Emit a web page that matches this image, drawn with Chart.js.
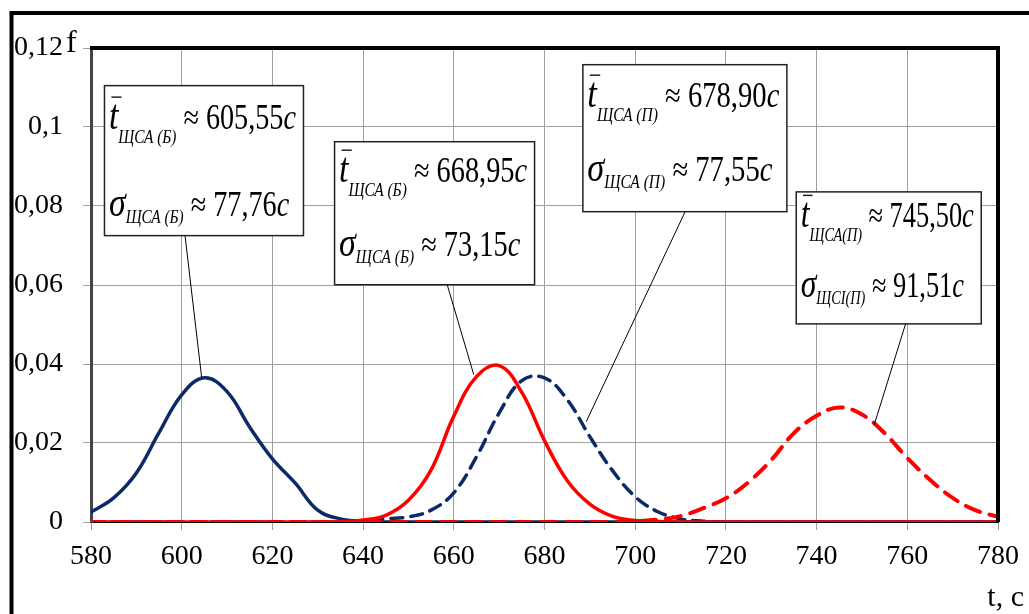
<!DOCTYPE html>
<html>
<head>
<meta charset="utf-8">
<script src="https://cdn.jsdelivr.net/npm/chart.js@4.4.0/dist/chart.umd.min.js"></script>
<style>
  body { margin: 0; background: #fff; }
  #grafik { display: block; }
</style>
</head>
<body>
<canvas id="grafik" width="1029" height="614"></canvas>
<script>
// t, c
const tValues = [580, 585, 590, 595, 600, 605, 610, 615, 620, 625, 630, 635, 640, 645, 650, 655, 660, 665, 670, 675, 680,
                 685, 690, 695, 700, 705, 710, 715, 720, 725, 730, 735, 740, 745, 750, 755, 760, 765, 770, 775, 780];

// f(t) for each curve
const navySolid = [0.0025, 0.0061, 0.0124, 0.0226, 0.0322, 0.0365, 0.0330, 0.0240, 0.0160, 0.0099, 0.0030, 0.0008, 0.0002, 0, 0, 0, 0, 0, 0, 0, 0,
                   0, 0, 0, 0, 0, 0, 0, 0, 0, 0, 0, 0, 0, 0, 0, 0, 0, 0, 0, 0];
const redSolid = [0, 0, 0, 0, 0, 0, 0, 0, 0, 0, 0, 0, 0.0005, 0.0017, 0.0055, 0.0132, 0.0268, 0.0368, 0.0396, 0.0328, 0.0206,
                  0.0105, 0.0045, 0.0014, 0.0004, 0.0001, 0, 0, 0, 0, 0, 0, 0, 0, 0, 0, 0, 0, 0, 0, 0];
const navyDashed = [0, 0, 0, 0, 0, 0, 0, 0, 0, 0, 0, 0, 0.0003, 0.0008, 0.0013, 0.0030, 0.0074, 0.0165, 0.0276, 0.0358, 0.0365,
                    0.0310, 0.0216, 0.0130, 0.0064, 0.0026, 0.0008, 0.0002, 0, 0, 0, 0, 0, 0, 0, 0, 0, 0, 0, 0, 0];
const redDashed = [0, 0, 0, 0, 0, 0, 0, 0, 0, 0, 0, 0, 0, 0, 0, 0, 0, 0, 0, 0, 0,
                   0, 0, 0, 0.0002, 0.0006, 0.0015, 0.0035, 0.0060, 0.0101, 0.0157, 0.0225, 0.0269, 0.0290, 0.0272,
                   0.0225, 0.0162, 0.0107, 0.0061, 0.0030, 0.0013];

const xTicks = [580, 600, 620, 640, 660, 680, 700, 720, 740, 760, 780];
const yTickLabels = ['0', '0,02', '0,04', '0,06', '0,08', '0,1', '0,12'];

// annotation boxes: top-left corner in data units, size in px, leader line target in data units
const notes = [
    { x: 582.86, y: 0.1106, w: 199, h: 150, b1: 44, b2: 131, lx: 81, tx: 604.4, ty: 0.0366,
      sub: 'ЩСА (Б)', sub2: 'ЩСА (Б)', mean: '605,55', sigma: '77,76' },
    { x: 633.6, y: 0.0964, w: 200, h: 143, b1: 41, b2: 115, lx: 113, tx: 664.4, ty: 0.0373,
      sub: 'ЩСА (Б)', sub2: 'ЩСА (Б)', mean: '668,95', sigma: '73,15' },
    { x: 688.35, y: 0.1159, w: 204, h: 147, b1: 43, b2: 117, lx: 103, tx: 689.2, ty: 0.0254,
      sub: 'ЩСА (П)', sub2: 'ЩСА (П)', mean: '678,90', sigma: '77,55' },
    { x: 735.4, y: 0.0837, w: 185, h: 132, b1: 36, b2: 106, lx: 110, tx: 752.7, ty: 0.0246,
      sub: 'ЩСА(П)', sub2: 'ЩСІ(П)', mean: '745,50', sigma: '91,51' }
];

const serif = '"Liberation Serif", "Times New Roman", serif';
const NAVY = '#0b2a66';
const RED = '#ff0000';

function pairs(ys) {
    return tValues.map((t, i) => ({ x: t, y: ys[i] }));
}

function drawNote(ctx, n, xs, ys) {
    const left = xs.getPixelForValue(n.x);
    const top = ys.getPixelForValue(n.y);

    ctx.save();
    ctx.strokeStyle = '#000';
    ctx.lineWidth = 1;
    ctx.beginPath();
    ctx.moveTo(left + n.lx, top + n.h);
    ctx.lineTo(xs.getPixelForValue(n.tx), ys.getPixelForValue(n.ty));
    ctx.stroke();

    ctx.fillStyle = '#fff';
    ctx.fillRect(left, top, n.w, n.h);
    ctx.lineWidth = 1.5;
    ctx.strokeStyle = '#222';
    ctx.strokeRect(left + 0.5, top + 0.5, n.w, n.h);

    const big = '35px ' + serif;
    const bigI = 'italic 35px ' + serif;
    const sym = 'italic 42px ' + serif;
    const small = 'italic 19px ' + serif;
    const lines = [
        [{ t: 't', f: sym, bar: true }, { t: n.sub, f: small, dy: 14 }, { t: ' ≈ ', f: big }, { t: n.mean, f: big }, { t: 'c', f: bigI }],
        [{ t: 'σ', f: sym }, { t: n.sub2, f: small, dy: 7 }, { t: ' ≈ ', f: big }, { t: n.sigma, f: big }, { t: 'c', f: bigI }]
    ];
    const widths = lines.map(parts => parts.reduce((s, p) => { ctx.font = p.f; return s + ctx.measureText(p.t).width; }, 0));
    const sx = (n.w - 12) / Math.max(...widths);

    ctx.fillStyle = '#000';
    ctx.textBaseline = 'alphabetic';
    ctx.textAlign = 'left';
    [n.b1, n.b2].forEach((base, li) => {
        ctx.save();
        ctx.translate(left + 5, top + base);
        ctx.scale(sx, 1);
        let cx = 0;
        lines[li].forEach(p => {
            ctx.font = p.f;
            const w = ctx.measureText(p.t).width;
            ctx.fillText(p.t, cx, p.dy || 0);
            if (p.bar) {
                ctx.lineWidth = 1.5;
                ctx.beginPath();
                ctx.moveTo(cx + 3, -32);
                ctx.lineTo(cx + w + 4, -32);
                ctx.stroke();
            }
            cx += w;
        });
        ctx.restore();
    });
    ctx.restore();
}

const framePlugin = {
    id: 'frame',
    beforeDraw(chart) {
        const ctx = chart.ctx;
        ctx.save();
        ctx.fillStyle = '#fff';
        ctx.fillRect(0, 0, chart.width, chart.height);
        ctx.strokeStyle = '#000';
        ctx.lineWidth = 4;
        ctx.beginPath();
        ctx.moveTo(11.5, chart.height);
        ctx.lineTo(11.5, 13);
        ctx.lineTo(chart.width, 13);
        ctx.stroke();
        ctx.restore();
    },
    afterDraw(chart) {
        const ctx = chart.ctx;
        const a = chart.chartArea;
        const xs = chart.scales.x, ys = chart.scales.y;
        ctx.save();
        ctx.strokeStyle = '#000';
        ctx.lineWidth = 4;
        ctx.beginPath();
        ctx.moveTo(a.left - 1, a.top);
        ctx.lineTo(a.right, a.top);
        ctx.lineTo(a.right, a.bottom);
        ctx.stroke();

        notes.forEach(n => drawNote(ctx, n, xs, ys));

        ctx.fillStyle = '#000';
        ctx.font = '32px ' + serif;
        ctx.textBaseline = 'alphabetic';
        ctx.textAlign = 'left';
        ctx.fillText('f', 66, 52);
        ctx.font = '30px ' + serif;
        ctx.textAlign = 'right';
        ctx.fillText('t, c', 1024, 606);
        ctx.restore();
    }
};

window.addEventListener('DOMContentLoaded', () => {
    const ctx = document.getElementById('grafik').getContext('2d');
    new Chart(ctx, {
        type: 'line',
        data: {
            datasets: [
                { label: 'navySolid', data: pairs(navySolid), borderColor: NAVY, borderWidth: 3.5, order: 3 },
                { label: 'navyDashed', data: pairs(navyDashed), borderColor: NAVY, borderWidth: 3.5, borderDash: [12, 8], order: 2 },
                { label: 'redDashed', data: pairs(redDashed), borderColor: RED, borderWidth: 4, borderDash: [15, 10], order: 1 },
                { label: 'redSolid', data: pairs(redSolid), borderColor: RED, borderWidth: 3.5, order: 0 }
            ]
        },
        options: {
            responsive: false,
            devicePixelRatio: 1,
            animation: false,
            layout: { padding: { left: 0, right: 28, top: 48, bottom: 0 } },
            elements: {
                point: { radius: 0 },
                line: { tension: 0.4, fill: false, borderCapStyle: 'round' }
            },
            plugins: {
                legend: { display: false },
                tooltip: { enabled: false }
            },
            scales: {
                x: {
                    type: 'linear',
                    min: 580,
                    max: 780,
                    afterFit: s => { s.height = 92; },
                    afterBuildTicks: s => { s.ticks = xTicks.map(v => ({ value: v })); },
                    ticks: {
                        color: '#000',
                        padding: 10,
                        maxRotation: 0,
                        font: { family: serif, size: 28 },
                        callback: v => String(v)
                    },
                    grid: { color: '#a0a0a0', lineWidth: 1, tickLength: 8 },
                    border: { color: '#000', width: 2 }
                },
                y: {
                    min: 0,
                    max: 0.12,
                    afterFit: s => { s.width = 91; },
                    ticks: {
                        stepSize: 0.02,
                        color: '#000',
                        padding: 20,
                        font: { family: serif, size: 28 },
                        callback: (v, i) => yTickLabels[i]
                    },
                    grid: { color: '#a0a0a0', lineWidth: 1, tickLength: 8 },
                    border: { color: '#444', width: 3 }
                }
            }
        },
        plugins: [framePlugin]
    });
});
</script>
</body>
</html>
